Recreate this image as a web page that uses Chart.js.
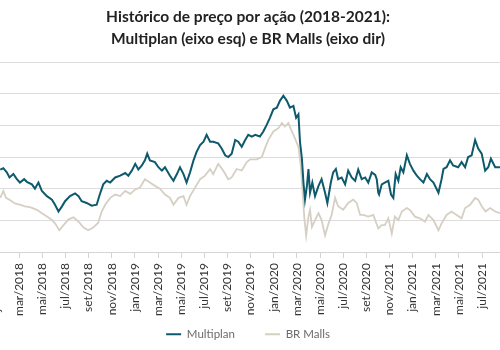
<!DOCTYPE html>
<html>
<head>
<meta charset="utf-8">
<script src="https://cdn.jsdelivr.net/npm/chart.js@4"></script>
<style>
  body { margin: 0; background: #fff; }
  #frame { position: relative; width: 500px; height: 350px; overflow: hidden; }
  #holder { position: absolute; left: -14px; top: 0; width: 516px; height: 350px; }
</style>
</head>
<body>
<div id="frame"><div id="holder"><canvas id="lineChart"></canvas></div></div>
<script>
// datas (AAAA-MM-DD) e preços
const multiplanDates = [
  '2018-01-12','2018-01-20','2018-01-29','2018-02-06','2018-02-16','2018-02-25','2018-03-03','2018-03-14','2018-03-21',
  '2018-04-04','2018-04-12','2018-04-21','2018-04-30','2018-05-13','2018-05-26','2018-06-04','2018-06-13','2018-06-22',
  '2018-06-30','2018-07-13','2018-07-26','2018-08-05','2018-08-13','2018-08-26','2018-09-09','2018-09-22','2018-09-30',
  '2018-10-09','2018-10-18','2018-10-27','2018-11-10','2018-11-23','2018-12-06','2018-12-14','2018-12-23','2019-01-02',
  '2019-01-10','2019-01-19','2019-01-27','2019-02-03','2019-02-10','2019-02-23','2019-03-02','2019-03-11','2019-03-19',
  '2019-04-02','2019-04-11','2019-04-20','2019-04-28','2019-05-07','2019-05-15','2019-05-24','2019-06-03','2019-06-11',
  '2019-06-20','2019-06-29','2019-07-07','2019-07-16','2019-07-24','2019-08-07','2019-08-16','2019-08-25','2019-09-03',
  '2019-09-12','2019-09-21','2019-09-29','2019-10-08','2019-10-17','2019-10-25','2019-11-04','2019-11-13','2019-11-25',
  '2019-12-04','2019-12-13','2019-12-21','2019-12-30','2020-01-09','2020-01-17','2020-01-26','2020-02-05','2020-02-13',
  '2020-02-22','2020-02-29','2020-03-05','2020-03-09','2020-03-14','2020-03-18','2020-03-22','2020-03-27','2020-03-31',
  '2020-04-05','2020-04-11','2020-04-18','2020-04-27','2020-05-05','2020-05-14','2020-05-20','2020-05-29','2020-06-05',
  '2020-06-12','2020-06-18','2020-06-27','2020-07-06','2020-07-14','2020-07-23','2020-08-02','2020-08-10','2020-08-19',
  '2020-08-28','2020-09-06','2020-09-15','2020-09-24','2020-09-28','2020-10-02','2020-10-04','2020-10-11','2020-10-19',
  '2020-10-28','2020-11-05','2020-11-11','2020-11-17','2020-11-24','2020-11-30','2020-12-07','2020-12-16','2020-12-24',
  '2021-01-03','2021-01-12','2021-01-20','2021-01-29','2021-02-08','2021-02-16','2021-02-25','2021-03-08','2021-03-16',
  '2021-03-21','2021-03-29','2021-04-08','2021-04-16','2021-04-29','2021-05-08','2021-05-17','2021-05-25','2021-06-04',
  '2021-06-13','2021-06-21','2021-06-30','2021-07-09','2021-07-17','2021-07-24','2021-08-05','2021-08-18'
];
const multiplanPrices = [
  23.02,23.23,22.58,21.77,22.31,21.50,20.97,21.50,21.08,
  20.69,20.00,20.97,19.63,18.82,18.27,17.47,16.40,17.21,
  18.02,18.82,19.24,18.82,18.02,17.74,17.31,17.47,19.08,
  20.69,21.24,20.97,21.77,22.05,22.47,22.05,22.85,23.92,
  23.02,23.66,24.47,25.53,24.47,24.19,23.39,22.85,23.39,
  22.05,21.24,22.31,23.39,22.31,20.97,22.58,24.47,25.81,
  26.89,27.42,28.50,27.42,27.42,27.15,26.34,25.27,25.00,
  25.53,27.69,27.42,26.61,27.69,28.50,28.23,28.50,28.23,
  29.03,30.11,31.18,32.53,32.79,33.87,34.68,33.87,32.79,
  33.06,31.18,31.73,27.42,24.73,20.97,18.27,20.44,23.11,
  19.35,20.97,18.82,20.44,21.50,19.35,17.74,20.97,22.58,
  23.11,21.50,21.77,20.69,22.85,21.77,21.24,23.02,21.50,
  21.77,20.97,22.58,22.18,21.50,19.35,19.08,20.69,20.97,
  21.24,19.08,18.55,22.31,21.24,23.39,22.58,25.27,23.92,
  22.85,22.05,21.50,20.97,22.31,21.50,20.97,19.35,21.50,
  23.11,23.39,24.47,23.66,23.39,24.19,23.39,25.00,25.27,
  27.69,26.34,25.53,22.85,23.39,24.73,23.39,23.39
];
const brMallsDates = [
  '2018-01-12','2018-01-20','2018-01-27','2018-02-08','2018-02-21','2018-03-03','2018-03-16','2018-03-29','2018-04-17',
  '2018-04-30','2018-05-13','2018-05-26','2018-06-04','2018-06-15','2018-06-26','2018-07-09','2018-07-22','2018-08-05',
  '2018-08-18','2018-08-30','2018-09-13','2018-09-26','2018-10-05','2018-10-14','2018-10-27','2018-11-10','2018-11-23',
  '2018-12-06','2018-12-19','2019-01-02','2019-01-14','2019-01-27','2019-02-10','2019-02-23','2019-03-06','2019-03-19',
  '2019-04-02','2019-04-11','2019-04-24','2019-05-07','2019-05-15','2019-05-24','2019-06-07','2019-06-20','2019-07-03',
  '2019-07-16','2019-07-24','2019-08-07','2019-08-20','2019-09-03','2019-09-12','2019-09-25','2019-10-08','2019-10-21',
  '2019-10-30','2019-11-17','2019-11-30','2019-12-08','2019-12-17','2019-12-30','2020-01-13','2020-01-22','2020-01-30',
  '2020-02-09','2020-02-18','2020-02-26','2020-03-05','2020-03-11','2020-03-16','2020-03-20','2020-03-25','2020-03-31',
  '2020-04-05','2020-04-10','2020-04-18','2020-04-27','2020-05-05','2020-05-14','2020-05-23','2020-06-01','2020-06-10',
  '2020-06-18','2020-07-01','2020-07-14','2020-07-27','2020-08-06','2020-08-15','2020-08-23','2020-09-06','2020-09-19',
  '2020-10-02','2020-10-11','2020-10-19','2020-10-28','2020-11-07','2020-11-15','2020-11-24','2020-12-03','2020-12-16',
  '2020-12-24','2021-01-07','2021-01-20','2021-02-03','2021-02-12','2021-02-25','2021-03-08','2021-03-16','2021-03-29',
  '2021-04-12','2021-04-25','2021-05-08','2021-05-17','2021-05-30','2021-06-13','2021-06-21','2021-06-30','2021-07-10',
  '2021-07-22','2021-08-05','2021-08-18'
];
const brMallsPrices = [
  12.56,13.14,12.56,12.36,12.07,11.98,11.85,11.78,11.55,
  11.27,10.98,10.69,10.41,9.83,10.26,10.75,10.92,10.55,
  10.06,9.83,10.06,10.47,11.41,11.98,12.56,12.84,12.71,
  13.14,12.90,13.27,13.42,14.13,13.85,13.57,13.33,12.84,
  12.56,11.98,12.56,12.71,11.98,12.71,13.42,14.13,14.43,
  14.99,14.56,15.42,14.86,14.13,14.28,14.99,14.86,15.57,
  15.80,15.80,16.00,16.71,17.44,18.15,18.43,18.86,18.58,
  18.86,18.15,17.57,16.86,15.29,12.99,10.98,9.40,10.98,
  11.55,10.12,10.69,11.27,10.69,9.40,10.41,11.12,12.56,
  11.85,11.55,12.13,12.41,12.13,11.12,11.12,10.98,11.12,
  9.98,10.26,10.26,10.84,9.55,10.98,10.69,11.41,11.70,
  11.55,10.98,10.84,10.55,11.12,10.69,9.83,10.41,11.12,
  11.41,11.12,10.84,11.70,11.98,12.56,12.41,11.85,11.41,
  11.70,11.41,11.27
];
const tickLabels = [
  'jan/2018','mar/2018','mai/2018','jul/2018','set/2018','nov/2018',
  'jan/2019','mar/2019','mai/2019','jul/2019','set/2019','nov/2019',
  'jan/2020','mar/2020','mai/2020','jul/2020','set/2020','nov/2021',
  'jan/2021','mar/2021','mai/2021','jul/2021'
];

// meses desde jan/2018
function toMonth(s) {
    const p = s.split('-').map(Number);
    return (p[0] - 2018) * 12 + (p[1] - 1) + (p[2] - 1) / 30;
}
function toPoints(dates, values) {
    return dates.map((d, i) => ({ x: toMonth(d), y: values[i] }));
}

document.addEventListener('DOMContentLoaded', function () {
    const ctx = document.getElementById('lineChart').getContext('2d');
    const font = 'Lato, "Open Sans", sans-serif';
    new Chart(ctx, {
        type: 'line',
        data: {
            datasets: [{
                    label: 'Multiplan',
                    data: toPoints(multiplanDates, multiplanPrices),
                    borderColor: '#0d5a6c',
                    backgroundColor: '#0d5a6c',
                    borderWidth: 2,
                    pointRadius: 0,
                    yAxisID: 'y',
                    fill: false
                }, {
                    label: 'BR Malls',
                    data: toPoints(brMallsDates, brMallsPrices),
                    borderColor: '#d5cfc4',
                    backgroundColor: '#d5cfc4',
                    borderWidth: 1.8,
                    pointRadius: 0,
                    yAxisID: 'y1',
                    fill: false
                }
            ]
        },
        options: {
            responsive: true,
            maintainAspectRatio: false,
            animation: false,
            layout: { padding: { left: 10, right: 2, top: 0, bottom: 0 } },
            plugins: {
                title: {
                    display: true,
                    text: ['Histórico de preço por ação (2018-2021):', 'Multiplan (eixo esq) e BR Malls (eixo dir)'],
                    color: '#222',
                    font: { family: font, size: 15.5, weight: 'bold', lineHeight: 1.42 },
                    padding: { top: 6, bottom: 12 }
                },
                legend: {
                    position: 'bottom',
                    labels: {
                        usePointStyle: true,
                        pointStyle: 'line',
                        pointStyleWidth: 15,
                        padding: 30,
                        color: '#6b6b6b',
                        font: { family: font, size: 11.5 }
                    }
                },
                tooltip: { enabled: false }
            },
            scales: {
                x: {
                    type: 'linear',
                    min: 0,
                    max: 43.55,
                    afterBuildTicks: function (scale) {
                        scale.ticks = scale.ticks.filter(t => t.value % 2 === 0);
                    },
                    afterFit: function (scale) {
                        scale.height = 46.5;
                        // os rótulos passam do fim do eixo, não cortar
                        scale._computeLabelArea = function () { return undefined; };
                    },
                    ticks: {
                        stepSize: 2,
                        autoSkip: false,
                        minRotation: 90,
                        maxRotation: 90,
                        padding: 5,
                        color: '#333',
                        font: { family: font, size: 12 },
                        callback: function (value) {
                            return tickLabels[value / 2] || '';
                        }
                    },
                    grid: { drawOnChartArea: false, drawTicks: true, tickLength: 6, color: '#d4d4d4' },
                    border: { color: '#d4d4d4' }
                },
                y: {
                    position: 'left',
                    min: 10,
                    max: 40,
                    ticks: { stepSize: 5, display: false },
                    grid: { color: '#dddddd', drawTicks: false },
                    border: { display: false }
                },
                y1: {
                    position: 'right',
                    display: false,
                    min: 8,
                    max: 24
                }
            }
        }
    });
});
</script>
</body>
</html>
